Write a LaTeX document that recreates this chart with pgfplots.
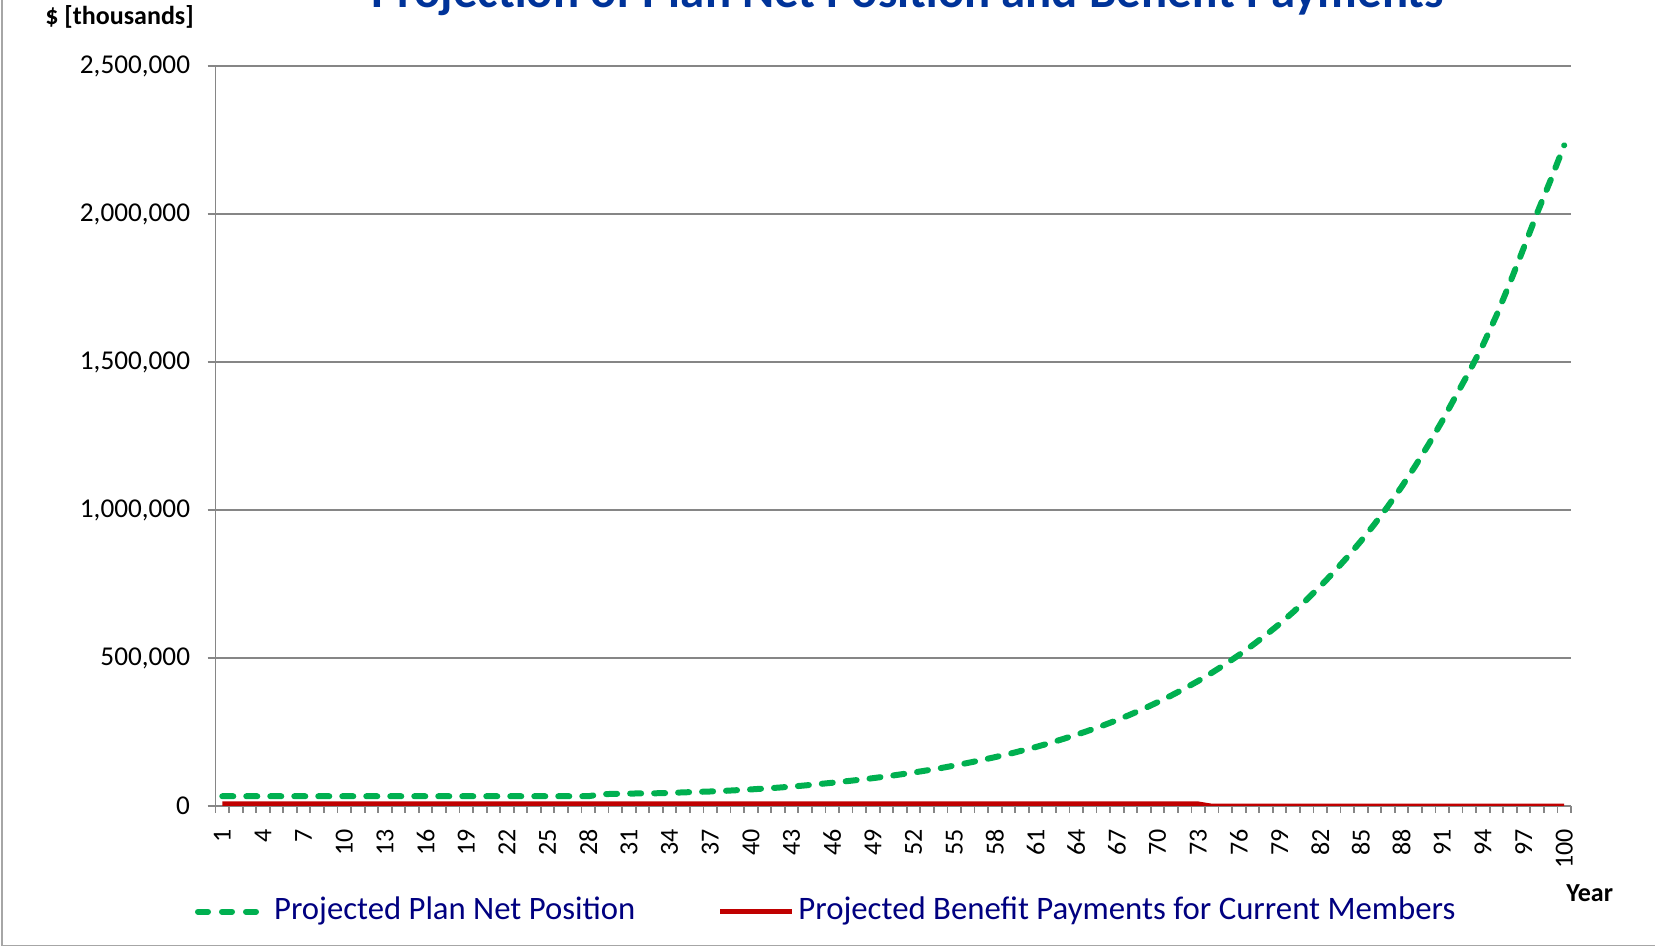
\documentclass[border=0pt]{standalone}
\usepackage{fontspec}
\setmainfont{Carlito}
\usepackage{pgfplots}
\usepackage{pgfplotstable}
\pgfplotsset{compat=1.18}
\definecolor{netgreen}{HTML}{00B050}
\definecolor{payred}{HTML}{C00000}
\definecolor{axgray}{HTML}{868686}
\definecolor{titleblue}{HTML}{003399}
\definecolor{legnavy}{HTML}{000080}
\definecolor{framegray}{HTML}{A6A6A6}

\pgfplotstableread{
year net pay
1 33000 7500
2 33000 7500
3 33000 7500
4 33000 7500
5 33000 7500
6 33000 7500
7 33000 7500
8 33000 7500
9 33000 7500
10 33000 7500
11 33000 7500
12 33000 7500
13 33000 7500
14 33000 7500
15 33000 7500
16 33000 7500
17 33000 7500
18 33000 7500
19 33000 7500
20 33000 7500
21 33000 7500
22 33000 7500
23 33000 7500
24 33000 7500
25 33000 7500
26 33000 7500
27 33000 7500
28 33000 7500
29 40000 7500
30 41000 7500
31 42000 7500
32 42500 7500
33 43000 7500
34 44000 7500
35 46000 7500
36 47500 7500
37 49000 7500
38 51000 7500
39 53500 7500
40 56000 7500
41 59000 7500
42 62000 7500
43 65500 7500
44 69500 7500
45 74000 7500
46 78500 7500
47 83500 7500
48 88500 7500
49 94000 7500
50 100000 7500
51 106500 7500
52 113000 7500
53 120500 7500
54 128000 7500
55 136500 7500
56 145500 7500
57 155000 7500
58 165000 7500
59 175500 7500
60 187000 7500
61 199000 7500
62 212000 7500
63 226000 7500
64 240500 7500
65 256000 7500
66 272500 7500
67 290000 7500
68 309000 7500
69 329000 7500
70 350500 7500
71 373000 7500
72 397000 7500
73 422500 7500
74 450000 0
75 479000 0
76 510000 0
77 543000 0
78 578000 0
79 615000 0
80 655000 0
81 697000 0
82 742000 0
83 790000 0
84 841000 0
85 895000 0
86 952000 0
87 1013000 0
88 1078000 0
89 1148000 0
90 1222000 0
91 1301000 0
92 1385000 0
93 1468000 0
94 1557000 0
95 1657000 0
96 1768000 0
97 1884000 0
98 2003000 0
99 2115000 0
100 2232000 0
}\datatable

\begin{document}
\begin{tikzpicture}
\useasboundingbox (0,0) rectangle (827.5pt,473.5pt);
\clip (0,0) rectangle (827.5pt,473.5pt);
\begin{axis}[
  at={(107.75pt,70.5pt)}, anchor=south west,
  scale only axis, width=677.75pt, height=370pt,
  xmin=0.5, xmax=100.5, ymin=0, ymax=2500000,
  axis x line=bottom, axis y line=left,
  axis line style={-, draw=axgray, line width=0.9pt},
  xtick={1,4,7,10,13,16,19,22,25,28,31,34,37,40,43,46,49,52,55,58,61,64,67,70,73,76,79,82,85,88,91,94,97,100},
  minor xtick={0.5,1.5,...,100.5},
  major x tick style={draw opacity=0},
  ytick={0,500000,1000000,1500000,2000000,2500000},
  tick align=outside, major tick length=4pt, minor tick length=3.5pt,
  tick style={draw=axgray, line width=0.9pt},
  ymajorgrids, grid style={draw=axgray, line width=0.9pt},
  scaled y ticks=false,
  /pgf/number format/assume math mode=true,
  yticklabel style={/pgf/number format/fixed, /pgf/number format/1000 sep={,},
    anchor=east, inner sep=0pt, font=\fontsize{13.6}{13.6}\selectfont},
  yticklabel shift=8.55pt,
  xticklabel style={rotate=90, anchor=east, inner sep=0pt, font=\fontsize{13}{13}\selectfont},
  xticklabel shift=7.25pt,
]
\addplot[payred, line width=2.3pt, line join=round] table[x=year,y=pay]{\datatable};
\addplot[netgreen, line width=3pt, line cap=round, line join=round, dash pattern=on 5.5pt off 6.5pt] table[x=year,y=net]{\datatable};
\end{axis}
% title (partly cut off at top as in the reference)
\node[anchor=base, inner sep=0pt, text=titleblue, font=\fontsize{24.4}{24.4}\selectfont\bfseries] at (454pt,469.5pt) {Projection of Plan Net Position and Benefit Payments};
\node[anchor=base west, inner sep=0pt, font=\fontsize{13}{13}\selectfont\bfseries] at (22.5pt,461pt) {\$ [thousands]};
\node[anchor=base west, inner sep=0pt, font=\fontsize{13}{13}\selectfont\bfseries] at (783pt,22.5pt) {Year};
% legend
\draw[netgreen, line width=3pt, line cap=round, dash pattern=on 5pt off 7pt] (99pt,17.65pt) -- (128pt,17.65pt);
\node[anchor=base west, inner sep=0pt, text=legnavy, font=\fontsize{16.35}{16.35}\selectfont] at (136.9pt,13.5pt) {Projected Plan Net Position};
\draw[payred, line width=2.3pt] (360pt,17.65pt) -- (395.8pt,17.65pt);
\node[anchor=base west, inner sep=0pt, text=legnavy, font=\fontsize{16.4}{16.4}\selectfont] at (399pt,13.5pt) {Projected Benefit Payments for Current Members};
% outer frame
\draw[framegray, line width=0.8pt] (0.85pt,480pt) -- (0.85pt,0.65pt) -- (830pt,0.65pt);
\end{tikzpicture}
\end{document}
